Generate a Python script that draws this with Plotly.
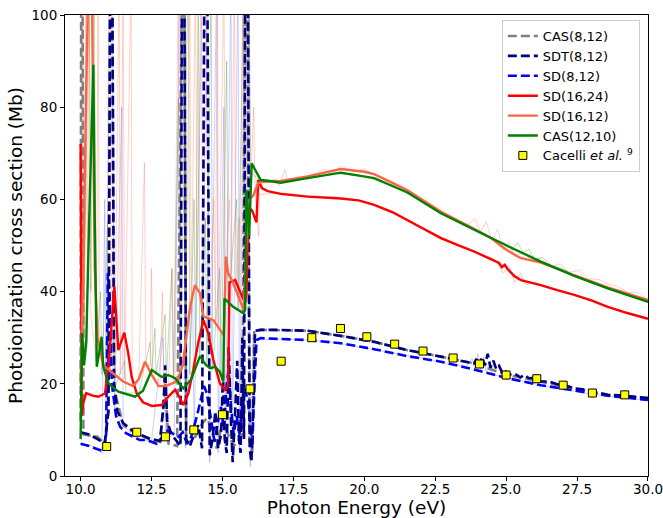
import plotly.graph_objects as go

# ---------------- data ----------------
cas812_E = [10.00, 10.02, 10.07, 10.10, 10.60, 10.85, 10.98, 11.04, 11.12, 11.18, 11.50, 11.80, 12.40, 12.80,
            12.98, 13.10, 13.40, 13.57, 13.66, 13.72, 14.00, 14.30, 14.45, 14.60, 14.80, 15.00, 15.20, 15.40,
            15.55, 15.70, 15.80, 15.88, 15.95, 16.05, 16.12, 16.35, 18.0, 19.17, 20.35, 21.52, 22.70, 23.87,
            25.05, 26.22, 27.40, 28.58, 30.0]
cas812_y = [12, 105, 105, 9, 8.5, 7, 14, 105, 105, 19, 11, 9.8, 8.0, 7.4,
            20, 7, 6.5, 105, 105, 7, 8, 11.5, 12.5, 10.5, 6, 12, 9, 6.5,
            7.5, 9, 105, 105, 8, 5, 31.5, 31.7, 31.5, 30.4, 29.1, 27.3, 25.9, 24.4,
            21.9, 20.5, 19.0, 17.6, 16.9]

sdt812_E = [10.00, 10.30, 10.60, 10.85, 10.98, 11.04, 11.12, 11.18, 11.30, 11.50, 11.80, 12.10, 12.40, 12.80,
            12.92, 12.98, 13.05, 13.20, 13.40, 13.52, 13.57, 13.66, 13.72, 13.85, 14.00, 14.15, 14.28, 14.36,
            14.47, 14.55, 14.65, 14.75, 14.85, 14.95, 15.02, 15.08, 15.15, 15.22, 15.30, 15.36, 15.45, 15.52,
            15.58, 15.64, 15.70, 15.76, 15.80, 15.90, 15.96, 16.02, 16.10, 16.15, 16.35, 17.0, 18.0, 19.17,
            20.35, 21.52, 22.70, 23.50, 23.87, 23.95, 24.05, 24.15, 24.25, 24.35, 24.45, 24.55, 24.65, 24.75,
            24.85, 24.95, 25.05, 25.30, 25.50, 25.65, 25.80, 26.00, 26.22, 26.50, 26.80, 27.10, 27.40, 27.70,
            28.00, 28.30, 28.58, 29.00, 29.50, 30.00]
sdt812_y = [9.5, 9.0, 8.0, 7.0, 14, 105, 105, 20, 14, 11.5, 10.0, 9.0, 8.2, 7.6,
            15, 24, 12, 9.0, 7.5, 6.5, 105, 105, 8, 6.5, 9.0, 11, 6, 105,
            105, 4.5, 8, 14, 6, 9, 22, 8, 5, 28, 12, 3, 14, 25,
            8, 5, 30, 8, 105, 105, 6, 3, 18, 31.5, 31.7, 31.7, 31.5, 30.4,
            29.1, 27.3, 25.9, 24.8, 24.4, 25.4, 23.8, 25.8, 24.0, 26.5, 23.5, 25.0, 23.2, 23.9,
            22.6, 23.2, 21.9, 22.2, 21.4, 21.9, 21.2, 21.3, 20.5, 20.5, 19.9, 19.6, 19.0, 18.8,
            18.2, 18.0, 17.6, 17.5, 17.2, 16.9]

sd812_E = [10.00, 10.30, 10.60, 10.80, 10.90, 10.96, 11.02, 11.10, 11.25, 11.39, 11.60, 12.09, 12.33, 12.68,
           12.80, 12.90, 13.00, 13.15, 13.45, 13.60, 13.75, 13.90, 14.10, 14.25, 14.35, 14.45, 14.60, 14.72,
           14.85, 14.95, 15.05, 15.15, 15.22, 15.30, 15.40, 15.50, 15.60, 15.72, 15.80, 15.90, 15.97, 16.05,
           16.12, 16.20, 16.35, 18.0, 19.17, 20.35, 21.52, 22.70, 23.87, 24.40, 25.05, 26.22, 27.40, 28.58,
           30.0]
sd812_y = [7.0, 6.5, 5.8, 5.4, 9, 44, 40, 20, 13, 10.7, 9.3, 7.8, 7.8, 7.0,
           7.5, 9, 10, 9.6, 8.5, 9.5, 7, 8.5, 13, 17, 19.5, 18, 12, 7.5,
           12, 15, 10, 20, 23, 15, 9, 13, 9, 17, 19, 16, 12, 6,
           18, 29.5, 29.9, 29.5, 28.8, 27.5, 26.0, 24.8, 23.1, 22.3, 21.2, 19.7, 18.5, 17.4,
           16.5]

sd1624_E = [10.00, 10.04, 10.10, 10.20, 10.40, 10.62, 10.86, 11.00, 11.19, 11.33, 11.54, 11.68, 11.80, 11.98,
            12.20, 12.51, 12.86, 13.09, 13.33, 13.45, 13.62, 13.80, 13.97, 14.15, 14.33, 14.50, 14.68, 14.91,
            15.09, 15.20, 15.25, 15.45, 15.62, 15.80, 15.85, 15.92, 16.05, 16.15, 16.20, 16.26, 16.40, 16.60,
            17.05, 18.00, 19.17, 19.80, 20.35, 21.00, 21.52, 22.10, 22.70, 23.30, 23.87, 24.40, 24.75, 24.85,
            24.95, 25.05, 25.30, 25.52, 25.85, 26.22, 26.80, 27.40, 28.00, 28.58, 29.30, 30.00]
sd1624_y = [72, 13, 16, 18, 17.5, 17.2, 17.9, 25, 41.1, 27.3, 31.1, 26.6, 21.5, 17.9,
            16.0, 15.2, 15.4, 17.2, 18.7, 17.5, 15.4, 18, 23.0, 29, 33.8, 31.0, 25.2, 20.1,
            18.7, 19.5, 42, 42.5, 40, 37.5, 40, 58.5, 57.5, 56, 55, 64.2, 62.4, 61.8,
            61.2, 60.6, 60.2, 59.8, 58.8, 57.2, 55.5, 53.6, 51.6, 50.1, 48.7, 47.2, 46.2, 45.3,
            45.8, 44.9, 43.3, 42.5, 42.0, 41.4, 40.3, 39.3, 38.1, 36.7, 35.3, 34.1]

sd1612_E = [10.00, 10.10, 10.20, 10.28, 10.40, 10.50, 10.60, 10.80, 11.10, 11.50, 11.85, 12.05, 12.27, 12.50,
            12.75, 13.00, 13.39, 13.60, 13.86, 14.03, 14.21, 14.33, 14.68, 14.91, 15.05, 15.12, 15.20, 15.38,
            15.62, 15.75, 15.85, 15.95, 16.10, 16.25, 16.40, 17.05, 18.00, 19.17, 20.00, 20.35, 21.52, 22.70,
            23.87, 24.50, 24.80, 25.05, 25.50, 26.22, 27.40, 28.58, 30.00]
sd1612_y = [20, 45, 85, 110, 105, 45, 30, 24, 22.5, 20.5, 19.5, 21, 24.8, 22,
            19.5, 19.5, 20.5, 24, 36.7, 41.4, 39.6, 34.6, 33.8, 31.7, 30.5, 47.6, 44, 41.8,
            38.2, 36, 52, 60, 61, 63.5, 63.8, 64.0, 65.0, 66.6, 66.0, 65.5, 62.0, 57.3,
            53.6, 51.5, 50.0, 48.9, 47.3, 46.3, 43.6, 40.9, 38.2]

cas1210_E = [10.00, 10.05, 10.12, 10.20, 10.30, 10.40, 10.45, 10.50, 10.57, 10.66, 10.74, 10.80, 10.98, 11.33,
             11.92, 12.20, 12.51, 12.86, 13.09, 13.33, 13.62, 13.90, 14.21, 14.40, 14.56, 14.74, 14.91, 15.03,
             15.07, 15.38, 15.74, 15.80, 15.84, 15.88, 15.94, 16.03, 16.21, 16.35, 16.68, 17.05, 18.00, 19.17,
             20.35, 21.52, 22.70, 23.87, 25.05, 26.22, 27.40, 28.58, 30.00]
cas1210_y = [8, 31, 24, 29, 55, 82, 89.2, 55, 23.7, 27, 30.2, 23.7, 20.1, 18.3,
             17.2, 18.5, 23.0, 21.5, 21.9, 21.2, 19.0, 21, 26.0, 24.2, 23.4, 23.7, 22.6, 20.5,
             38.5, 36.7, 35.3, 36, 62, 59.2, 52, 67.8, 65.7, 64.2, 64.0, 63.6, 64.6, 65.8,
             64.6, 61.5, 57.0, 53.4, 49.9, 46.5, 43.4, 40.7, 37.8]

cacelli_E = [10.92, 11.98, 12.99, 13.99, 15.00, 15.97, 17.07, 18.15, 19.16, 20.09, 21.07, 22.07, 23.13,
             24.06, 25.00, 26.08, 27.01, 28.04, 29.18]
cacelli_y = [6.4, 9.5, 8.5, 10.0, 13.3, 18.9, 24.9, 30.0, 32.0, 30.2, 28.6, 27.1, 25.6,
             24.3, 21.9, 21.1, 19.7, 18.0, 17.6]

# faint (unconvolved) background traces
faint_salmon_E = [10.00, 10.08, 10.12, 10.18, 10.24, 10.30, 10.36, 10.55, 10.62, 10.66, 10.90, 11.05, 11.09, 11.20,
                  11.36, 11.40, 11.50, 11.55, 11.78, 11.82, 12.05, 12.25, 12.30, 12.45, 12.50, 12.55, 12.80, 12.88,
                  12.94, 13.10, 13.22, 13.28, 13.45, 13.50, 13.65, 13.70, 13.85, 13.90, 14.05, 14.10, 14.25, 14.30,
                  14.48, 14.52, 14.70, 14.75, 14.82, 14.86, 15.05, 15.10, 15.25, 15.30, 15.42, 15.47, 15.58, 15.62,
                  15.72, 15.78, 15.92, 15.98, 16.10, 16.15, 16.28, 16.32, 16.50, 16.90, 17.00, 17.20, 17.30, 18.0,
                  18.6, 18.8, 19.2, 19.6, 20.0, 20.4, 20.8, 21.5, 22.2, 22.7, 23.2, 23.6, 23.9, 24.1, 24.3, 24.5,
                  24.7, 24.9, 25.1, 25.3, 25.6, 25.9, 26.2, 26.6, 26.9, 27.2, 27.6, 27.9, 28.3, 28.6, 28.9, 29.3,
                  29.6, 30.0]
faint_salmon_y = [20, 100, 30, 110, 40, 110, 35, 25, 110, 26, 22, 110, 24, 22,
                  110, 22, 110, 21, 110, 20, 21, 68, 24, 24, 45, 22, 20, 40,
                  20, 20, 45, 20, 110, 20, 110, 25, 110, 35, 110, 40, 110, 35,
                  110, 34, 60, 33, 110, 32, 110, 45, 60, 42, 110, 41, 56, 38,
                  110, 36, 110, 60, 80, 61, 52, 64, 63.5, 64.5, 63, 66.5, 64, 65,
                  66.5, 65.5, 67.2, 66.0, 66.6, 65.2, 64.5, 62.3, 59.5, 57.6, 55.6, 54.2, 55.8, 53.0, 55.2, 51.0,
                  53.5, 49.0, 50.8, 47.6, 48.5, 46.8, 47.3, 45.4, 46.0, 44.2, 44.6, 42.8, 42.6, 41.6, 41.2, 39.8,
                  39.9, 38.3]

faint_red_E = [16.3, 17.0, 18.0, 19.0, 20.0, 21.0, 22.0, 23.0, 23.8, 24.6, 24.9, 25.1, 25.3, 25.5, 25.7, 26.0,
               26.5, 27.0, 27.5, 28.0, 28.5, 29.0, 29.5, 30.0]
faint_red_y = [61, 61.5, 60.8, 60.5, 59.5, 57.5, 54.0, 51.0, 49.0, 47.0, 44.0, 45.5, 42.0, 44.0, 41.5, 42.0,
               40.8, 40.2, 39.0, 38.3, 37.0, 36.0, 35.0, 34.2]

faint_green_E = [10.00, 10.06, 10.10, 10.30, 10.36, 10.48, 10.55, 10.70, 10.75, 10.95, 11.00, 11.15, 11.20, 11.55,
                 11.60, 12.05, 12.45, 12.50, 12.62, 12.66, 12.98, 13.02, 13.22, 13.27, 13.45, 13.50, 13.80, 13.85,
                 14.00, 14.05, 14.15, 14.20, 14.40, 14.45, 14.60, 14.65, 14.90, 14.95, 15.15, 15.20, 15.50, 15.55,
                 15.75, 15.80, 15.95, 16.00, 16.30, 17.0, 17.5, 18.0, 19.0, 20.0, 21.0, 22.0, 23.0, 24.0,
                 24.5, 25.0, 25.2, 25.4, 25.6, 25.8, 26.0, 26.3, 26.6, 27.0, 27.5, 28.0, 28.5, 29.0, 29.5, 30.0]
faint_green_y = [8, 60, 25, 110, 40, 110, 25, 40, 22, 55, 20, 30, 19, 25,
                 18, 18, 29, 22, 32, 22, 35, 21, 45, 21, 82, 20, 110, 22,
                 60, 25, 110, 26, 56, 24, 110, 23, 45, 22, 90, 37, 60, 36,
                 110, 40, 100, 66, 64, 63.5, 64.5, 64.5, 65.6, 65, 63, 59.8, 56, 52.8,
                 51.5, 50.4, 49.0, 50.6, 48.5, 49.2, 47.0, 47.4, 45.6, 45.0, 43.2, 42.3, 41.0, 39.8, 38.8, 37.8]

faint_blue_E = [10.00, 10.40, 10.75, 10.85, 10.90, 11.00, 11.10, 11.20, 11.45, 11.50, 12.00, 12.50, 12.90, 13.00,
                13.30, 13.50, 13.62, 13.70, 13.95, 14.00, 14.30, 14.40, 14.55, 14.80, 14.85, 15.05, 15.10, 15.30,
                15.35, 15.55, 15.60, 15.78, 15.92, 15.98, 16.08, 16.20, 17.0, 18.0, 19.0, 20.0, 21.0, 22.0,
                23.0, 23.6, 23.8, 23.9, 24.0, 24.1, 24.2, 24.3, 24.4, 24.5, 25.0, 26.0, 27.0, 28.0, 29.0, 30.0]
faint_blue_y = [7, 6.5, 5, 60, 8, 110, 110, 14, 80, 11, 8, 7.5, 30, 8,
                9, 110, 110, 6, 40, 8, 110, 110, 3, 110, 5, 80, 6, 110,
                4, 110, 5, 110, 110, 2, 30, 29.5, 29.7, 29.5, 28.9, 27.8, 26.7, 25.6,
                24.2, 23.8, 25.5, 23, 26.5, 22.8, 25.8, 22.5, 24.6, 22.0, 21.5, 20, 18.8, 17.8, 17, 16.4]

x_ticks = [10.0, 12.5, 15.0, 17.5, 20.0, 22.5, 25.0, 27.5, 30.0]
y_ticks = [0, 20, 40, 60, 80, 100]

# ---------------- figure ----------------
fig = go.Figure()

FONT = "DejaVu Sans"
DASH = "9px,4px"

# faint background traces
for E, y, col in [(faint_blue_E, faint_blue_y, "rgba(90,90,255,0.30)"),
                  (faint_green_E, faint_green_y, "rgba(0,128,0,0.28)"),
                  (faint_salmon_E, faint_salmon_y, "rgba(255,99,71,0.30)"),
                  (faint_red_E, faint_red_y, "rgba(255,0,0,0.22)")]:
    fig.add_trace(go.Scatter(x=E, y=y, mode="lines", line=dict(color=col, width=1),
                             showlegend=False, hoverinfo="skip"))

fig.add_trace(go.Scatter(x=cas812_E, y=cas812_y, mode="lines", name="CAS(8,12)", legendrank=1,
                         line=dict(color="#808080", width=2.6, dash=DASH)))
fig.add_trace(go.Scatter(x=sd812_E, y=sd812_y, mode="lines", name="SD(8,12)", legendrank=3,
                         line=dict(color="#0000FF", width=2.6, dash=DASH)))
fig.add_trace(go.Scatter(x=sdt812_E, y=sdt812_y, mode="lines", name="SDT(8,12)", legendrank=2,
                         line=dict(color="#000080", width=2.6, dash=DASH)))
fig.add_trace(go.Scatter(x=sd1624_E, y=sd1624_y, mode="lines", name="SD(16,24)", legendrank=4,
                         line=dict(color="#FF0000", width=2.4)))
fig.add_trace(go.Scatter(x=sd1612_E, y=sd1612_y, mode="lines", name="SD(16,12)", legendrank=5,
                         line=dict(color="#FF6347", width=2.4)))
fig.add_trace(go.Scatter(x=cas1210_E, y=cas1210_y, mode="lines", name="CAS(12,10)", legendrank=6,
                         line=dict(color="#008000", width=2.4)))
fig.add_trace(go.Scatter(x=cacelli_E, y=cacelli_y, mode="markers", name="Cacelli <i>et al.</i> <sup>9</sup>",
                         legendrank=7,
                         marker=dict(symbol="square", size=8, color="#FFFF00",
                                     line=dict(color="black", width=1))))

axis_common = dict(showline=True, linecolor="black", linewidth=1, mirror=True, automargin=False,
                   ticks="outside", ticklen=4, tickcolor="black", showgrid=False, zeroline=False,
                   ticklabeloverflow="allow",
                   tickfont=dict(family=FONT, size=13.5, color="black"))

fig.update_layout(
    width=663, height=518,
    margin=dict(l=65, r=15, t=15, b=42),
    paper_bgcolor="white", plot_bgcolor="white",
    font=dict(family=FONT, size=13, color="black"),
    xaxis=dict(range=[9.45, 30.0005], tickvals=x_ticks, ticktext=[f"{v:.1f}" for v in x_ticks],
               ticklabelstandoff=-3,
               title=dict(text="Photon Energy (eV)", font=dict(family=FONT, size=18.5), standoff=7),
               **axis_common),
    yaxis=dict(range=[0, 100], tickvals=y_ticks,
               title=dict(text="Photoionization cross section (Mb)", font=dict(family=FONT, size=18.5), standoff=4),
               **axis_common),
    legend=dict(x=0.986, y=0.989, xanchor="right", yanchor="top",
                bgcolor="rgba(255,255,255,0.85)", bordercolor="#cccccc", borderwidth=1,
                font=dict(family=FONT, size=13), tracegroupgap=0),
    showlegend=True,
)

fig.write_html("out.html", config={"displayModeBar": False},
               post_script="document.body.style.margin='0';document.body.style.padding='0';"
                           "document.body.style.overflow='hidden';")
